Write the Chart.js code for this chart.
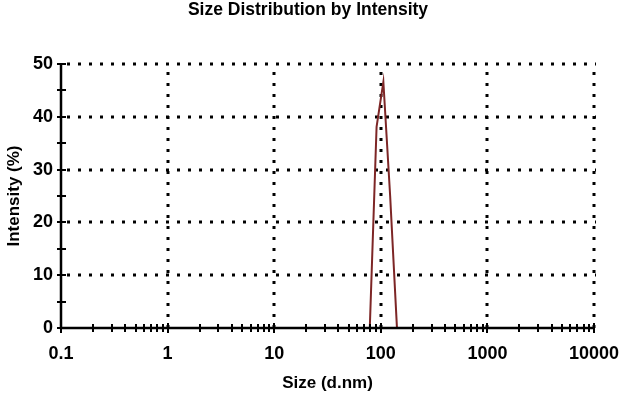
<!DOCTYPE html>
<html>
<head>
<meta charset="utf-8">
<script src="https://cdn.jsdelivr.net/npm/chart.js@4/dist/chart.umd.min.js"></script>
<style>
  html, body { margin: 0; padding: 0; background: #ffffff; }
  #wrap { width: 626px; height: 398px; }
</style>
</head>
<body>
<div id="wrap"><canvas id="c" width="626" height="398"></canvas></div>
<script>
// ---- data ----
const sizes = [0.4, 1, 10, 50, 68.06, 78.82, 91.28, 105.7, 122.4, 141.8, 164.2, 1000, 5000];
const intensity = [0, 0, 0, 0, 0, 0, 38.1, 46.6, 25, 0, 0, 0, 0];
const xTickValues = [0.1, 1, 10, 100, 1000, 10000];
const yTickValues = [0, 10, 20, 30, 40, 50];
const yMinorTicks = [5, 15, 25, 35, 45];
const chartTitle = 'Size Distribution by Intensity';
const xTitle = 'Size (d.nm)';
const yTitle = 'Intensity (%)';

const FONT = 'Liberation Sans, Arial, sans-serif';

// grid (dotted) + axes with crossing tick marks, positioned via the chart's scales
const axesPlugin = {
  id: 'axesPlugin',
  beforeDatasetsDraw(chart) {
    const {ctx, chartArea: a, scales: {x, y}} = chart;
    ctx.save();
    ctx.strokeStyle = '#000';
    ctx.lineWidth = 3;
    ctx.lineCap = 'butt';
    ctx.setLineDash([3, 8]);
    xTickValues.forEach(v => {
      if (v === x.min) return;
      const px = Math.round(x.getPixelForValue(v));
      ctx.beginPath();
      ctx.moveTo(px, a.bottom);
      ctx.lineTo(px, a.top);
      ctx.stroke();
    });
    yTickValues.forEach(v => {
      if (v === y.min) return;
      const py = Math.round(y.getPixelForValue(v));
      ctx.beginPath();
      ctx.moveTo(a.left + 6, py);
      ctx.lineTo(a.right + 2, py);
      ctx.stroke();
    });
    ctx.restore();
  },
  afterDatasetsDraw(chart) {
    const {ctx, chartArea: a, scales: {x, y}} = chart;
    ctx.save();
    ctx.strokeStyle = '#000';
    ctx.setLineDash([]);
    // axis lines
    ctx.lineWidth = 2.5;
    ctx.beginPath();
    ctx.moveTo(a.left, a.top);
    ctx.lineTo(a.left, a.bottom);
    ctx.lineTo(a.right, a.bottom);
    ctx.stroke();
    // y ticks
    ctx.lineWidth = 2;
    yTickValues.concat(yMinorTicks).forEach(v => {
      const py = Math.round(y.getPixelForValue(v));
      ctx.beginPath();
      ctx.moveTo(a.left - 4, py);
      ctx.lineTo(a.left + 5, py);
      ctx.stroke();
    });
    // x ticks (decades and log minors)
    for (let d = 0; d < xTickValues.length; d++) {
      const base = xTickValues[d];
      const pxMajor = Math.round(x.getPixelForValue(base));
      ctx.beginPath();
      ctx.moveTo(pxMajor, a.bottom - 5);
      ctx.lineTo(pxMajor, a.bottom + 5);
      ctx.stroke();
      if (d === xTickValues.length - 1) break;
      for (let m = 2; m <= 9; m++) {
        const px = Math.round(x.getPixelForValue(base * m));
        ctx.beginPath();
        ctx.moveTo(px, a.bottom - 4);
        ctx.lineTo(px, a.bottom + 4);
        ctx.stroke();
      }
    }
    ctx.restore();
  }
};

new Chart(document.getElementById('c'), {
  type: 'line',
  data: {
    datasets: [{
      data: sizes.map((s, i) => ({x: s, y: intensity[i]})),
      borderColor: '#7d2626',
      borderWidth: 2,
      pointRadius: 0,
      tension: 0,
      fill: false
    }]
  },
  options: {
    responsive: false,
    animation: false,
    events: [],
    layout: { padding: { left: 22, right: 32, top: 0, bottom: 0 } },
    plugins: {
      legend: { display: false },
      tooltip: { enabled: false },
      title: {
        display: true,
        text: chartTitle,
        color: '#000',
        font: { family: FONT, size: 17.5, weight: 'bold', lineHeight: 1.2 },
        padding: { top: 0, bottom: 43 }
      }
    },
    scales: {
      x: {
        type: 'logarithmic',
        min: 0.1,
        max: 10000,
        afterBuildTicks: s => { s.ticks = xTickValues.map(v => ({value: v})); },
        afterFit: s => { s.height = 70; s.paddingLeft = 0; s.paddingRight = 0; },
        grid: { display: false, drawTicks: false },
        border: { display: false },
        ticks: {
          color: '#000',
          padding: 15,
          maxRotation: 0,
          autoSkip: false,
          font: { family: FONT, size: 18, weight: 'bold' },
          callback: v => String(v)
        },
        title: {
          display: true,
          text: xTitle,
          color: '#000',
          font: { family: FONT, size: 17, weight: 'bold', lineHeight: 1.2 },
          padding: { top: 0, bottom: 4.3 }
        }
      },
      y: {
        min: 0,
        max: 50,
        afterBuildTicks: s => { s.ticks = yTickValues.map(v => ({value: v})); },
        afterFit: s => { s.width = 39; s.paddingTop = 0; s.paddingBottom = 0; },
        grid: { display: false, drawTicks: false },
        border: { display: false },
        ticks: {
          color: '#000',
          padding: 8,
          font: { family: FONT, size: 18, weight: 'bold' }
        },
        title: {
          display: true,
          text: yTitle,
          color: '#000',
          font: { family: FONT, size: 17, weight: 'bold', lineHeight: 1.2 },
          padding: { top: -18.2, bottom: 0 }
        }
      }
    }
  },
  plugins: [axesPlugin]
});
</script>
</body>
</html>
